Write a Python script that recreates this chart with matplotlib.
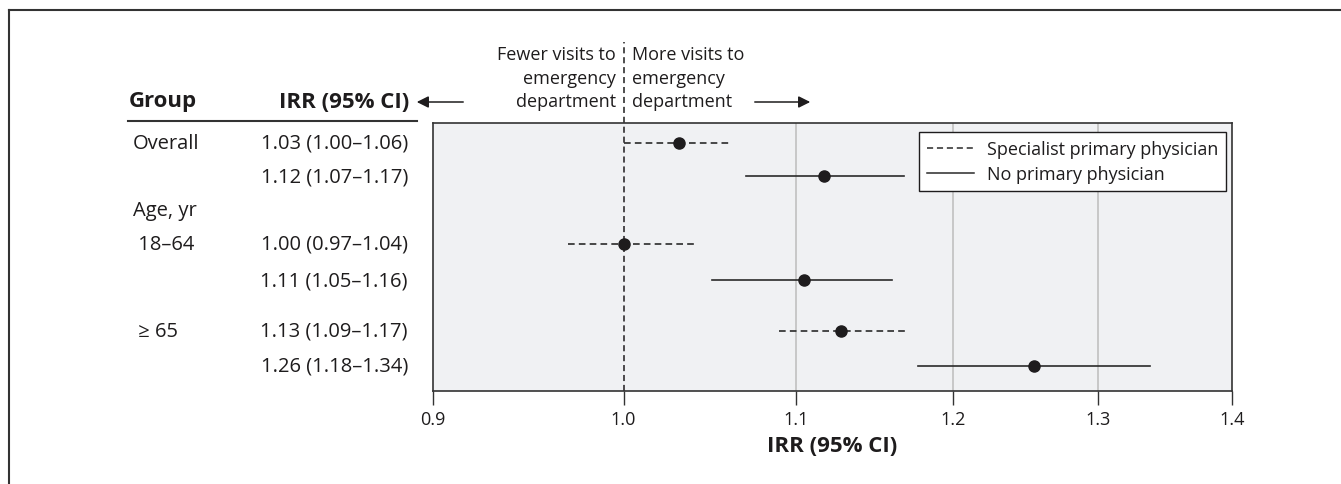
import matplotlib
matplotlib.use('Agg')
import matplotlib.pyplot as plt
import matplotlib.transforms as mtransforms
from matplotlib.lines import Line2D
from matplotlib.patches import FancyArrowPatch

plt.rcParams['font.family'] = ['Open Sans', 'DejaVu Sans']

# data
groups = ['Overall', '', 'Age, yr', ' 18\u201364', '', ' \u2265 65', '']
series = ['Specialist primary physician', 'No primary physician',
          'Specialist primary physician', 'No primary physician',
          'Specialist primary physician', 'No primary physician']
irr_text = ['1.03 (1.00\u20131.06)', '1.12 (1.07\u20131.17)', '1.00 (0.97\u20131.04)',
            '1.11 (1.05\u20131.16)', '1.13 (1.09\u20131.17)', '1.26 (1.18\u20131.34)']
irr = [1.031, 1.117, 1.000, 1.105, 1.128, 1.255]
lo = [1.00, 1.07, 0.97, 1.05, 1.09, 1.177]
hi = [1.06, 1.168, 1.04, 1.16, 1.17, 1.338]
xticks = [0.9, 1.0, 1.1, 1.2, 1.3, 1.4]

# layout (pixel offsets below the top of the plot box)
row_y = [20, 53, 121, 157, 208, 243]
label_y = [20, 53, 87, 121, 157, 208, 243]
styles = {'Specialist primary physician': (0, (4, 2.5)),
          'No primary physician': '-'}
ink = '#1e1c1d'

W, H = 1341, 485
fig = plt.figure(figsize=(W / 100, H / 100), dpi=100)
ax = fig.add_axes([433 / W, 1 - 392 / H, (1232 - 433) / W, (392 - 124) / H])
ax.set_facecolor('#f0f1f3')
ax.set_xscale('log')
ax.set_xlim(0.9, 1.4)
ax.set_ylim(268, 0)

for x in [1.1, 1.2, 1.3]:
    ax.axvline(x, color='#c4c4c4', lw=1.3, zorder=1)

# reference line at 1.0, running up through the annotation
ax.plot([1.0, 1.0], [268, -81], color=ink, lw=1.1, ls=(0, (4, 2.5)),
        clip_on=False, zorder=2)

for y, m, a, b, s in zip(row_y, irr, lo, hi, series):
    ax.plot([a, b], [y, y], color='#2a2a2a', lw=1.2, ls=styles[s], zorder=3)
    ax.plot(m, y, 'o', color=ink, ms=8, zorder=4)

ax.set_xticks(xticks)
ax.set_xticklabels(['%.1f' % t for t in xticks], fontsize=13)
ax.xaxis.set_minor_locator(matplotlib.ticker.NullLocator())
ax.tick_params(axis='x', length=10, width=1, direction='out', pad=4, colors='#333333',
               labelcolor=ink)
ax.set_yticks([])
for sp in ax.spines.values():
    sp.set_color('#333333')
    sp.set_linewidth(1.2)
ax.set_xlabel('IRR (95% CI)', fontsize=16, fontweight='bold', labelpad=5, color=ink)

handles = [Line2D([], [], color='#2a2a2a', lw=1.1, ls=styles[s]) for s in series[:2]]
leg = ax.legend(handles, series[:2], loc='upper right',
                bbox_to_anchor=((1226 - 433) / 799, 1 - (133 - 124) / 268),
                borderaxespad=0, fontsize=13, frameon=True, fancybox=False,
                edgecolor=ink, framealpha=1, handlelength=2.6, borderpad=0.45,
                labelspacing=0.4, handletextpad=0.7)
leg.get_frame().set_linewidth(1.0)
for t in leg.get_texts():
    t.set_color(ink)

# left table
tr = mtransforms.blended_transform_factory(fig.transFigure, ax.transData)
for y, g in zip(label_y, groups):
    if g:
        ax.text(133 / W, y, g, transform=tr, fontsize=14.5, va='center', ha='left',
                color=ink)
for y, s in zip(row_y, irr_text):
    ax.text(408 / W, y, s, transform=tr, fontsize=14.5, va='center', ha='right',
            color=ink)

fig.text(129 / W, 1 - 102 / H, 'Group', fontsize=16, fontweight='bold', va='center',
         ha='left', color=ink)
fig.text(409 / W, 1 - 102 / H, 'IRR (95% CI)', fontsize=16, fontweight='bold',
         va='center', ha='right', color=ink)
fig.add_artist(Line2D([128 / W, 417 / W], [1 - 122 / H, 1 - 122 / H], color='#333333', lw=1.5))

# direction annotation
for i, (l, r) in enumerate([('Fewer visits to', 'More visits to'),
                            ('emergency', 'emergency'),
                            ('department', 'department')]):
    yy = 1 - (55 + 23.5 * i) / H
    fig.text(616 / W, yy, l, fontsize=13, ha='right', va='center', color=ink)
    fig.text(632 / W, yy, r, fontsize=13, ha='left', va='center', color=ink)
ya = 1 - 103 / H
fig.add_artist(FancyArrowPatch((466 / W, ya), (414 / W, ya), transform=fig.transFigure,
                               arrowstyle='-|>,head_length=7,head_width=3.5',
                               color=ink, lw=1.1))
fig.add_artist(FancyArrowPatch((752 / W, ya), (813 / W, ya), transform=fig.transFigure,
                               arrowstyle='-|>,head_length=7,head_width=3.5',
                               color=ink, lw=1.1))

# outer frame (left and top)
fig.add_artist(Line2D([9 / W, 9 / W], [0, 1 - 11 / H], color='#333333', lw=1.5))
fig.add_artist(Line2D([9 / W, 1], [1 - 11 / H, 1 - 11 / H], color='#333333', lw=1.5))

fig.savefig('out.png', dpi=100)
